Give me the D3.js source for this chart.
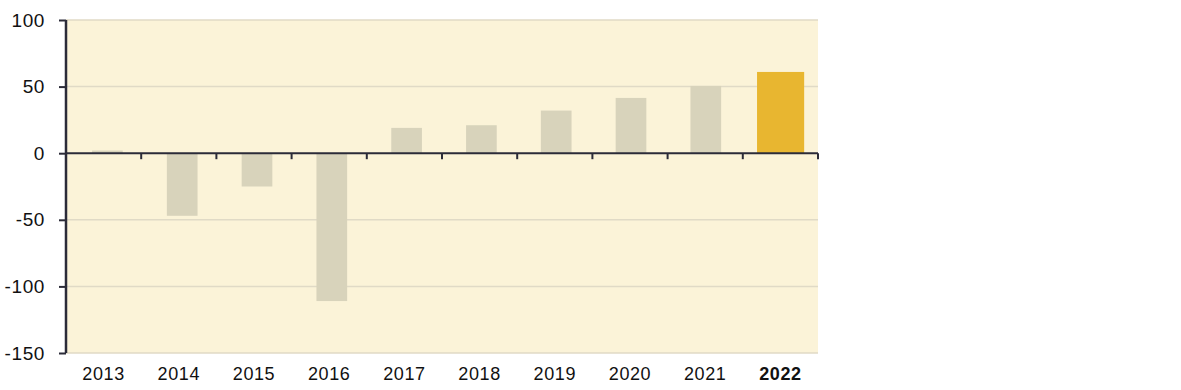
<!DOCTYPE html>
<html>
<head>
<meta charset="utf-8">
<script src="https://cdn.jsdelivr.net/npm/d3@7"></script>
<style>
  body { margin: 0; background: #fff; }
  text { font-family: "Liberation Sans", Arial, sans-serif; fill: #111; letter-spacing: 0.6px; }
</style>
</head>
<body>
<div id="chart"></div>
<script>
var years = ["2013", "2014", "2015", "2016", "2017", "2018", "2019", "2020", "2021", "2022"];
var values = [2, -47, -25, -111, 19, 21, 32, 41.5, 50.5, 61];
var yTicks = [100, 50, 0, -50, -100, -150];
var highlightYear = "2022";

var svgWidth = 1181;
var svgHeight = 390;

var margin = { top: 20, right: 363, bottom: 37, left: 66 };
var width = svgWidth - margin.left - margin.right;
var height = svgHeight - margin.top - margin.bottom;

var svg = d3.select("#chart")
  .append("svg")
  .attr("width", svgWidth)
  .attr("height", svgHeight);

var chartGroup = svg.append("g")
  .attr("transform", `translate(${margin.left}, ${margin.top})`);

// scales (labels/ticks use x, bars sit a little to the right)
var x = d3.scaleBand()
  .domain(years)
  .range([0, width]);

var xBar = d3.scaleBand()
  .domain(years)
  .range([4, width]);

var y = d3.scaleLinear()
  .domain([-150, 100])
  .range([height, 0]);

// plot background
chartGroup.append("rect")
  .attr("x", 0)
  .attr("y", 0)
  .attr("width", width)
  .attr("height", height)
  .attr("fill", "#fbf3d8");

// gridlines
chartGroup.selectAll(".grid")
  .data(yTicks.filter(d => d !== 0))
  .enter()
  .append("line")
  .attr("x1", 0)
  .attr("x2", width)
  .attr("y1", d => y(d))
  .attr("y2", d => y(d))
  .attr("stroke", "#e0dac6")
  .attr("stroke-width", 1.5);

// bars
function barWidth(d) {
  return d === highlightYear ? xBar.bandwidth() * 0.63 : xBar.bandwidth() * 0.41;
}

chartGroup.selectAll(".bar")
  .data(years)
  .enter()
  .append("rect")
  .attr("class", "bar")
  .attr("x", d => xBar(d) + (xBar.bandwidth() - barWidth(d)) / 2)
  .attr("width", d => barWidth(d))
  .attr("y", (d, i) => y(Math.max(0, values[i])))
  .attr("height", (d, i) => Math.abs(y(values[i]) - y(0)))
  .attr("fill", d => d === highlightYear ? "#e8b630" : "#d8d3bb");

// zero line with category ticks
chartGroup.append("line")
  .attr("x1", 0)
  .attr("x2", width)
  .attr("y1", y(0))
  .attr("y2", y(0))
  .attr("stroke", "#2b2b38")
  .attr("stroke-width", 2);

chartGroup.selectAll(".zero-tick")
  .data(years)
  .enter()
  .append("line")
  .attr("x1", d => x(d) + x.bandwidth())
  .attr("x2", d => x(d) + x.bandwidth())
  .attr("y1", y(0))
  .attr("y2", y(0) + 6)
  .attr("stroke", "#2b2b38")
  .attr("stroke-width", 2);

// left axis
var leftAxis = d3.axisLeft(y)
  .tickValues(yTicks)
  .tickSize(7)
  .tickPadding(14)
  .tickFormat(d => String(d));

var yAxis = chartGroup.append("g")
  .call(leftAxis);

yAxis.select(".domain")
  .attr("stroke", "#2b2b38")
  .attr("stroke-width", 2.5)
  .attr("d", `M0,0V${height}`);

yAxis.selectAll(".tick line")
  .attr("stroke", "#2b2b38")
  .attr("stroke-width", 2);

yAxis.selectAll(".tick text")
  .attr("font-size", 19)
  .attr("fill", "#111");

// year labels
chartGroup.selectAll(".year")
  .data(years)
  .enter()
  .append("text")
  .attr("x", d => x(d) + x.bandwidth() / 2)
  .attr("y", height + 27)
  .attr("text-anchor", "middle")
  .attr("font-size", 18)
  .attr("font-weight", d => d === highlightYear ? "bold" : "normal")
  .text(d => d);
</script>
</body>
</html>
